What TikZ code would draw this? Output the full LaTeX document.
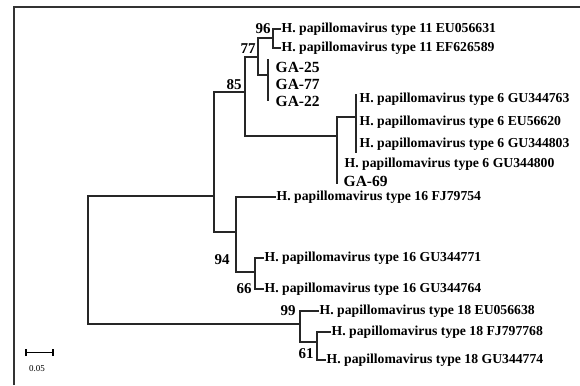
\documentclass[tikz,border=0pt]{standalone}
\usepackage{fontspec}
\setmainfont{Liberation Serif}
\usetikzlibrary{positioning}

\begin{document}
\begin{tikzpicture}[
  x=1pt, y=-1pt,
  br/.style={line width=1.7pt, black!85, line cap=rect},
  lf/.style={anchor=west, inner sep=1.5pt, font=\bfseries\fontsize{13.7}{14}\selectfont},
  iso/.style={anchor=west, inner sep=0.5pt, font=\bfseries\fontsize{15.5}{16}\selectfont},
  bs/.style={inner sep=0pt, font=\bfseries\fontsize{15}{16}\selectfont}
]
  \useasboundingbox (0,0) rectangle (580,385);
  \draw[line width=1.8pt, black!80] (14,385) -- (14,7) -- (580,7);

  % internal nodes
  \coordinate (root) at (88,260);
  \coordinate (n214) at (214,196);
  \coordinate (n85)  at (245,92);
  \coordinate (n77)  at (258,57);
  \coordinate (n96)  at (273,38);
  \coordinate (ga)   at (268,75);
  \coordinate (gaT)  at (268,60);
  \coordinate (gaB)  at (268,100);
  \coordinate (n6)   at (337,136);
  \coordinate (n6B)  at (337,183);
  \coordinate (n6s)  at (356,117);
  \coordinate (n6sT) at (356,95);
  \coordinate (n6sB) at (356,152);
  \coordinate (n94)  at (236,232);
  \coordinate (n66)  at (255,272);
  \coordinate (n99)  at (300,324);
  \coordinate (n61)  at (317,342);

  % leaves
  \node[lf] (t11a) at (280,29)  {H. papillomavirus type 11 EU056631};
  \node[lf] (t11b) at (280,48)  {H. papillomavirus type 11 EF626589};
  \node[iso] (ga25) at (275,67)  {GA-25};
  \node[iso] (ga77) at (275,84)  {GA-77};
  \node[iso] (ga22) at (275,101) {GA-22};
  \node[lf] (t6a)  at (358,99)  {H. papillomavirus type 6 GU344763};
  \node[lf] (t6b)  at (358,122) {H. papillomavirus type 6 EU56620};
  \node[lf] (t6c)  at (358,144) {H. papillomavirus type 6 GU344803};
  \node[lf] (t6d)  at (343,164) {H. papillomavirus type 6 GU344800};
  \node[iso] (ga69) at (343,181) {GA-69};
  \node[lf] (t16a) at (275,197) {H. papillomavirus type 16 FJ79754};
  \node[lf] (t16b) at (263,258) {H. papillomavirus type 16 GU344771};
  \node[lf] (t16c) at (263,289) {H. papillomavirus type 16 GU344764};
  \node[lf] (t18a) at (318,311) {H. papillomavirus type 18 EU056638};
  \node[lf] (t18b) at (330,332) {H. papillomavirus type 18 FJ797768};
  \node[lf] (t18c) at (325,360) {H. papillomavirus type 18 GU344774};

  % bootstrap values
  \node[bs] (b96) at (263,29)  {96};
  \node[bs] (b77) at (248,49)  {77};
  \node[bs] (b85) at (234,85)  {85};
  \node[bs] (b94) at (222,260) {94};
  \node[bs] (b66) at (244,289) {66};
  \node[bs] (b99) at (288,311) {99};
  \node[bs] (b61) at (306,354) {61};

  % branches
  \draw[br] (t11a.west) -| (n96);
  \draw[br] (t11b.west) -| (n96);
  \draw[br] (n96) -| (n77);
  \draw[br] (gaT) -- (gaB);
  \draw[br] (ga) -| (n77);
  \draw[br] (n77) -| (n85);
  \draw[br] (n6sT) -- (n6sB);
  \draw[br] (n6s) -| (n6);
  \draw[br] (n6B) -- (n6);
  \draw[br] (n6) -| (n85);
  \draw[br] (n85) -| (n214);
  \draw[br] (t16a.west) -| (n94);
  \draw[br] (t16b.west) -| (n66);
  \draw[br] (t16c.west) -| (n66);
  \draw[br] (n66) -| (n94);
  \draw[br] (n94) -| (n214);
  \draw[br] (n214) -| (root);
  \draw[br] (t18b.west) -| (n61);
  \draw[br] (t18c.west) -| (n61);
  \draw[br] (t18a.west) -| (n99);
  \draw[br] (n61) -| (n99);
  \draw[br] (n99) -| (root);

  % scale bar
  \coordinate (sbL) at (26,352.5);
  \coordinate (sbR) at (53,352.5);
  \draw[line width=1.2pt] (sbL) -- (sbR);
  \draw[line width=1.2pt] ([yshift=-3.5pt]sbL) -- ([yshift=3.5pt]sbL);
  \draw[line width=1.2pt] ([yshift=-3.5pt]sbR) -- ([yshift=3.5pt]sbR);
  \node[font=\fontsize{9}{10}\selectfont, inner sep=0pt] (sb) at (37,369) {0.05};
\end{tikzpicture}
\end{document}
